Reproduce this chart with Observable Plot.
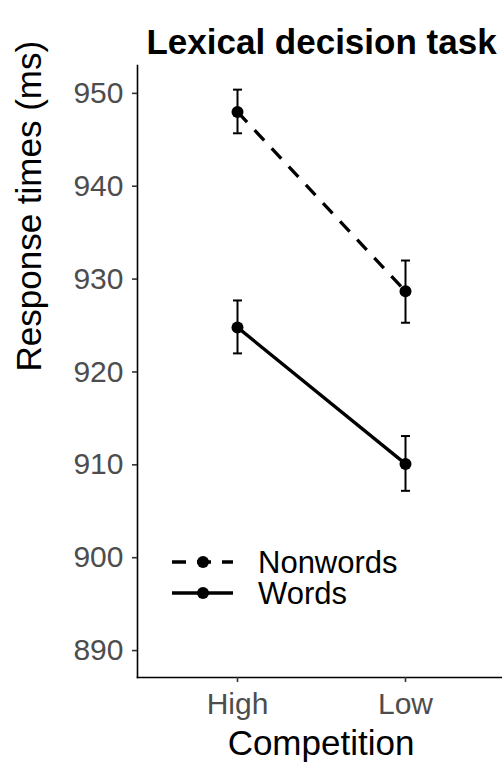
<!DOCTYPE html>
<html>
<head>
<meta charset="utf-8">
<script src="https://cdn.jsdelivr.net/npm/d3@7"></script>
<script src="https://cdn.jsdelivr.net/npm/@observablehq/plot@0.6"></script>
<style>
  body { margin: 0; background: #fff; }
  #chart svg { display: block; }
</style>
</head>
<body>
<div id="chart"></div>
<script>
// ---- data ----
const competition = ["High", "Low"];
const series = ["Nonwords", "Words"];
const nonwordsMean = [948.0, 928.7];
const nonwordsLower = [945.7, 925.3];
const nonwordsUpper = [950.4, 932.0];
const wordsMean = [924.8, 910.1];
const wordsLower = [922.0, 907.2];
const wordsUpper = [927.7, 913.1];
const yTicks = [890, 900, 910, 920, 930, 940, 950];
const titleText = "Lexical decision task";
const xLabel = "Competition";
const yLabel = "Response times (ms)";

const seriesData = {
  Nonwords: {mean: nonwordsMean, lower: nonwordsLower, upper: nonwordsUpper, dash: "14,11"},
  Words: {mean: wordsMean, lower: wordsLower, upper: wordsUpper, dash: null}
};
const rows = [];
for (const s of series) {
  competition.forEach((c, i) => {
    rows.push({series: s, competition: c, mean: seriesData[s].mean[i], lower: seriesData[s].lower[i], upper: seriesData[s].upper[i]});
  });
}

const capSymbol = {draw(ctx) { ctx.moveTo(-4.5, 0); ctx.lineTo(4.5, 0); }};
const font = "'Liberation Sans', Arial, Helvetica, sans-serif";

const lineMarks = series.map(s => Plot.line(rows.filter(d => d.series === s), {
  x: "competition", y: "mean", stroke: "#000", strokeWidth: 3.3,
  strokeDasharray: seriesData[s].dash || undefined, strokeLinecap: "butt"
}));

const plot = Plot.plot({
  width: 502,
  height: 772,
  marginTop: 65,
  marginBottom: 95,
  marginLeft: 137,
  marginRight: 0,
  style: {fontFamily: font, background: "#fff", overflow: "visible"},
  x: {type: "point", domain: competition, range: [237, 405], padding: 0},
  y: {domain: [887.1, 953.0]},
  marks: [
    Plot.frame({anchor: "left", stroke: "#000", strokeWidth: 1.6}),
    Plot.frame({anchor: "bottom", stroke: "#000", strokeWidth: 1.6}),
    Plot.axisY({ticks: yTicks, tickSize: 5, tickPadding: 9, fontSize: 30, stroke: "#333", fill: "#4d4d4d", strokeWidth: 1.6, label: null}),
    Plot.axisX({tickSize: 5, tickPadding: 10, fontSize: 30, stroke: "#333", fill: "#4d4d4d", strokeWidth: 1.6, label: null}),
    Plot.ruleX(rows, {x: "competition", y1: "lower", y2: "upper", stroke: "#000", strokeWidth: 2}),
    Plot.dot(rows, {x: "competition", y: "lower", symbol: capSymbol, stroke: "#000", strokeWidth: 2, r: 4}),
    Plot.dot(rows, {x: "competition", y: "upper", symbol: capSymbol, stroke: "#000", strokeWidth: 2, r: 4}),
    ...lineMarks,
    Plot.dot(rows, {x: "competition", y: "mean", r: 6, fill: "#000", stroke: "none"}),
    Plot.text([titleText], {frameAnchor: "top", dy: -36, dx: 1.5, fontSize: 35, fontWeight: "bold", fill: "#000"}),
    Plot.text([xLabel], {frameAnchor: "bottom", dy: 77, dx: 1, fontSize: 35, fill: "#000"}),
    Plot.text([yLabel], {frameAnchor: "left", dx: -108, rotate: -90, fontSize: 35, fill: "#000"})
  ]
});

// ---- legend (inside the svg) ----
const svg = d3.select(plot);
const legend = svg.append("g").attr("font-family", font).attr("text-anchor", "start");
const legendY0 = 562, legendStep = 31;
series.forEach((s, i) => {
  const g = legend.append("g").attr("transform", `translate(0,${legendY0 + i * legendStep})`);
  g.append("line").attr("x1", 172).attr("x2", 233).attr("y1", 0).attr("y2", 0)
    .attr("stroke", "#000").attr("stroke-width", 3.3)
    .attr("stroke-dasharray", seriesData[s].dash || null);
  g.append("circle").attr("cx", 203).attr("cy", 0).attr("r", 6).attr("fill", "#000");
  g.append("text").attr("x", 258).attr("y", 0).attr("dy", "0.35em")
    .attr("font-size", 31).attr("fill", "#000").text(s);
});

document.getElementById("chart").appendChild(plot);
</script>
</body>
</html>
